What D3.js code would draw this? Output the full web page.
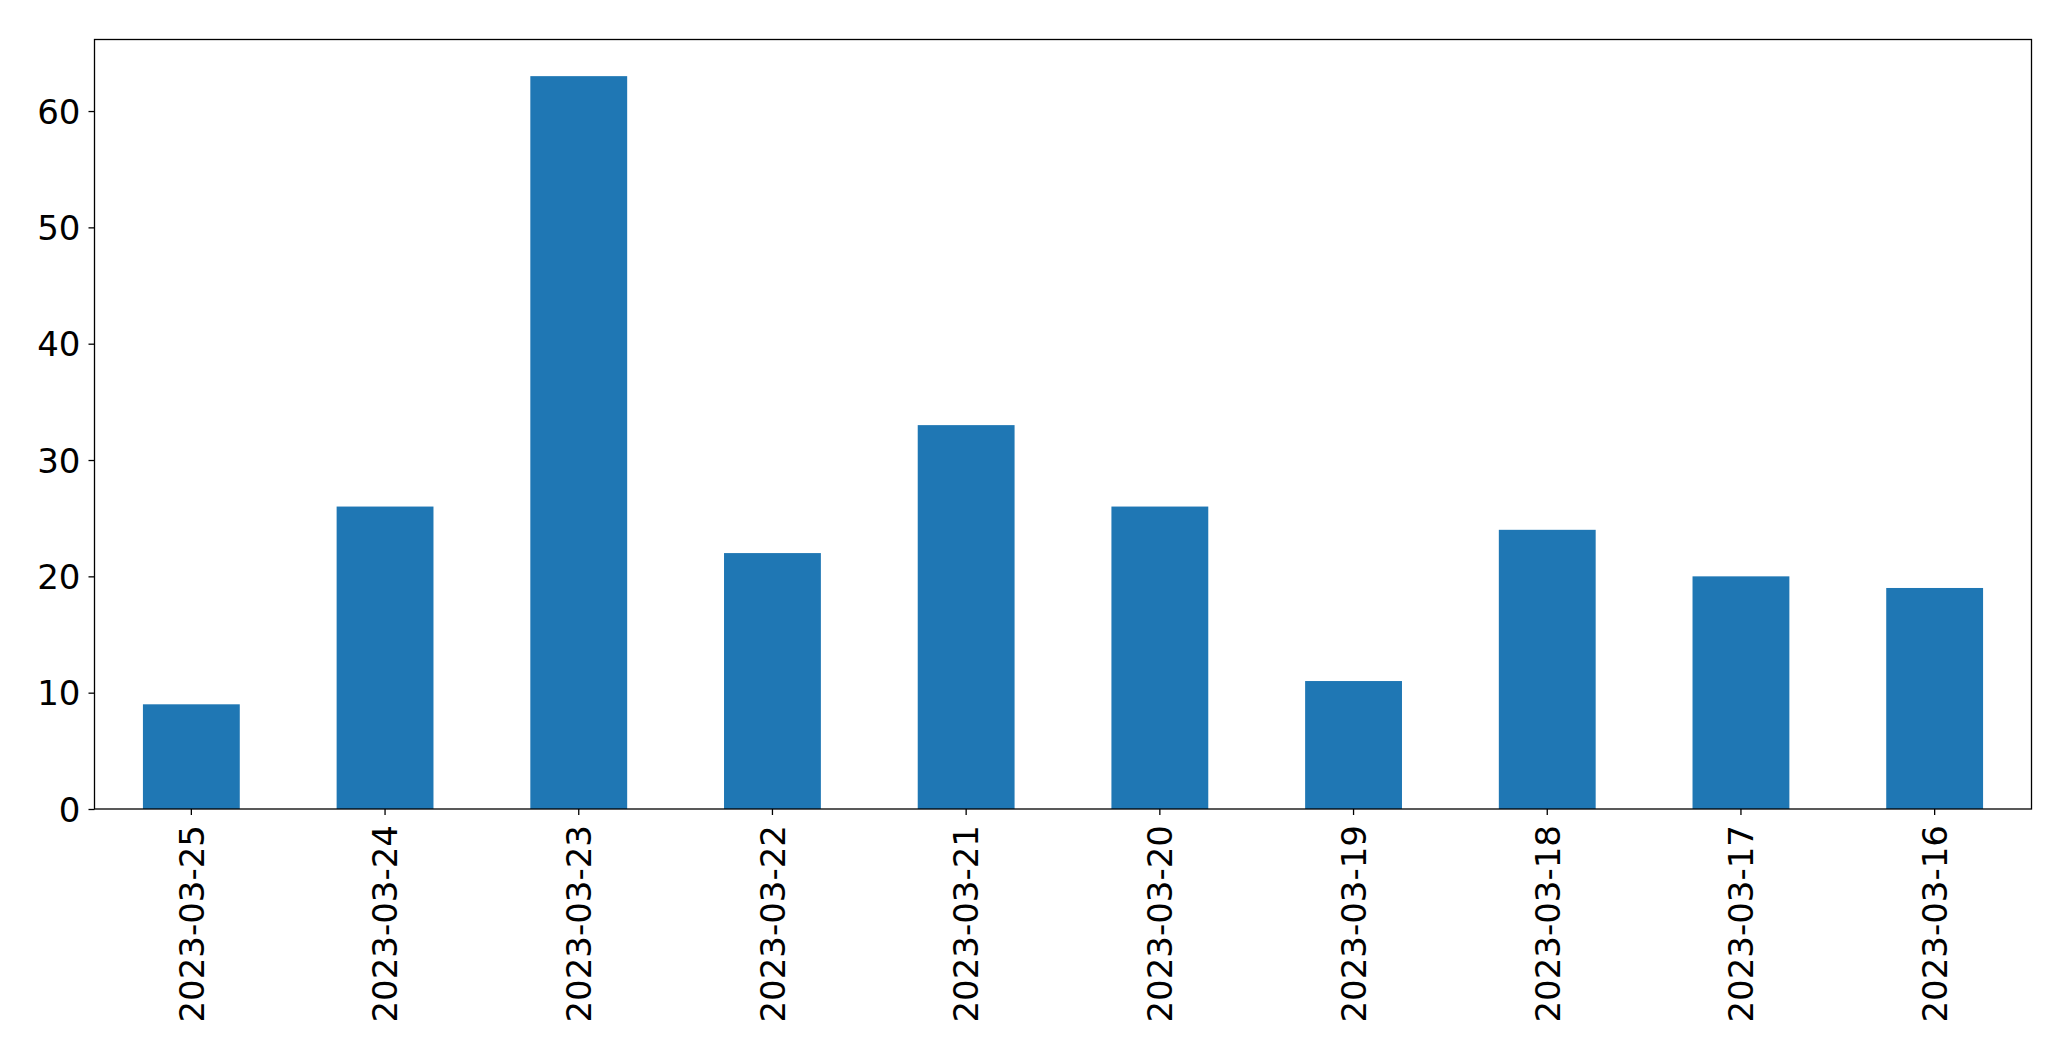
<!DOCTYPE html>
<html>
<head>
  <meta charset="UTF-8">
  <title>Daily counts</title>
  <style>
    body { margin: 0; background: #fff; }
    text { font-family: "DejaVu Sans", sans-serif; fill: #000; }
  </style>
</head>
<body>
  <svg width="2071" height="1061" id="chart"></svg>
  <script src="https://cdn.jsdelivr.net/npm/d3@7/dist/d3.min.js"></script>
  <script>
    // data
    var dates = ["2023-03-25", "2023-03-24", "2023-03-23", "2023-03-22", "2023-03-21",
                 "2023-03-20", "2023-03-19", "2023-03-18", "2023-03-17", "2023-03-16"];
    var counts = [9, 26, 63, 22, 33, 26, 11, 24, 20, 19];
    var yTicks = [0, 10, 20, 30, 40, 50, 60];

    var svg = d3.select("#chart"),
      margin = { top: 39.5, right: 39.5, bottom: 252, left: 94.5 },
      width = svg.attr("width") - margin.left - margin.right,
      height = svg.attr("height") - margin.top - margin.bottom;

    var g = svg.append("g").attr("transform", "translate(" + margin.left + "," + margin.top + ")");

    var x = d3.scaleBand().domain(dates).range([0, width]).paddingInner(0.5).paddingOuter(0.25),
      y = d3.scaleLinear().domain([0, d3.max(counts) * 1.05]).range([height, 0]);

    g.selectAll(".bar")
      .data(counts)
      .enter().append("rect")
      .attr("class", "bar")
      .attr("x", function (d, i) { return x(dates[i]); })
      .attr("y", function (d) { return y(d); })
      .attr("width", x.bandwidth())
      .attr("height", function (d) { return height - y(d); })
      .attr("fill", "#1f77b4");

    var yAxis = g.append("g")
      .call(d3.axisLeft(y).tickValues(yTicks).tickSize(6).tickPadding(8));
    yAxis.select(".domain").remove();
    yAxis.selectAll("text").style("font-size", "34px").attr("dy", "0.36em");

    var xAxis = g.append("g")
      .attr("transform", "translate(0," + height + ")")
      .call(d3.axisBottom(x).tickSize(6).tickPadding(0));
    xAxis.select(".domain").remove();
    xAxis.selectAll("text")
      .style("font-size", "34px")
      .attr("transform", "rotate(-90)")
      .attr("text-anchor", "end")
      .attr("x", -16)
      .attr("y", 0)
      .attr("dy", "0.36em");

    g.selectAll(".tick line").attr("stroke", "#000").attr("stroke-width", 1.3);

    g.append("rect")
      .attr("width", width)
      .attr("height", height)
      .attr("fill", "none")
      .attr("stroke", "#000")
      .attr("stroke-width", 1.3);
  </script>
</body>
</html>
